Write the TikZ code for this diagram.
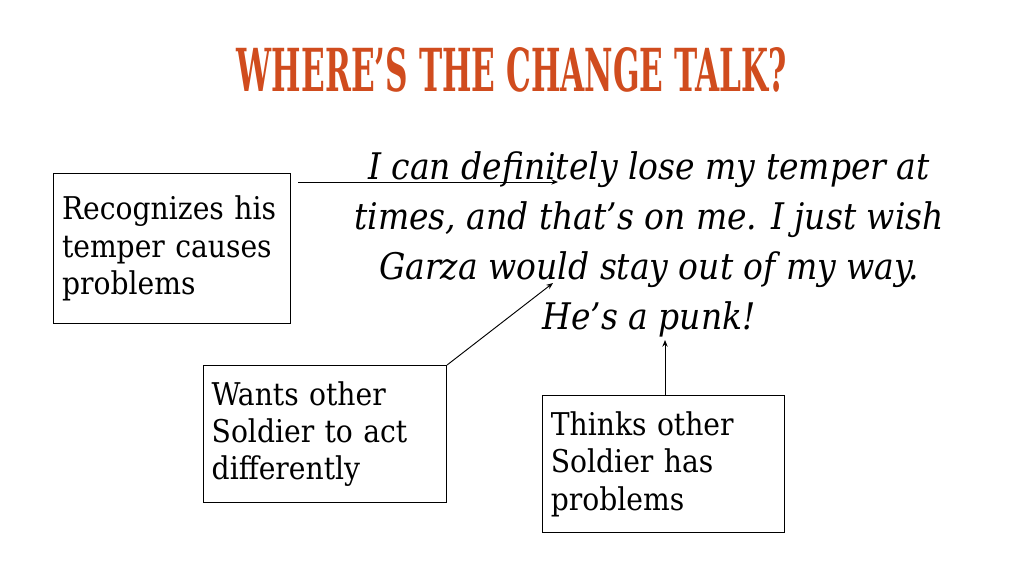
\documentclass[tikz,border=0pt]{standalone}
\usepackage{fontspec}
\usetikzlibrary{arrows.meta}
\setmainfont{DejaVu Serif Condensed}
\newfontfamily\titlefont{DejaVu Serif Condensed}
\definecolor{titleorange}{RGB}{208,76,30}
\tikzset{
  box/.style={draw, line width=0.8pt, anchor=north west, align=left, inner xsep=6pt,
    font=\fontsize{23.5}{28}\selectfont},
  conn/.style={line width=0.7pt, -{Stealth[length=5pt,width=4pt]}}
}
\begin{document}
\begin{tikzpicture}[x=0.75pt,y=-0.75pt]
\useasboundingbox (0,0) rectangle (1024,576);
\node[text=titleorange, inner sep=0pt] (title) at (512,70)
  {\resizebox{412.5pt}{33pt}{\titlefont\bfseries WHERE’S THE CHANGE TALK?}};
\node[align=center, anchor=north, inner sep=0pt,
  font=\fontsize{27.5}{37.5}\selectfont\itshape] (quote) at (649,151)
  {I can definitely lose my temper at\\times, and that’s on me. I just wish\\Garza would stay out of my way.\\He’s a punk!};
\node[box, minimum width=177.75pt, minimum height=112.5pt, text width=165pt] (b1) at (53,173)
  {Recognizes his\\temper causes\\problems};
\node[box, minimum width=182.25pt, minimum height=102.75pt, text width=170pt] (b2) at (203,365)
  {Wants other\\Soldier to act\\differently};
\node[box, minimum width=181.5pt, minimum height=102.75pt, text width=169pt] (b3) at (542,395)
  {Thinks other\\Soldier has\\problems};
\coordinate (s1) at (298,182);
\coordinate (e1) at (558,182);
\coordinate (e2) at (553,283);
\coordinate (e3) at (665,340);
\draw[conn] (s1) -- (e1);
\draw[conn] (b2.north east) -- (e2);
\draw[conn] (b3.north -| e3) -- (e3);
\end{tikzpicture}
\end{document}
